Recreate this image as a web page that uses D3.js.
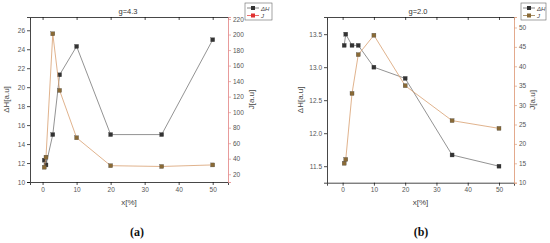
<!DOCTYPE html>
<html>
<head>
<meta charset="utf-8">
<script src="https://cdn.jsdelivr.net/npm/d3@7"></script>
<style>
  body { margin: 0; background: #fff; }
  svg { display: block; font-family: "Liberation Sans", Arial, sans-serif; }
</style>
</head>
<body>
<div id="chart"></div>
<script>
// x positions (%) shared by both panels
const xVals = [0.5, 1, 3, 5, 10, 20, 35, 50]
const xTicks = [0, 10, 20, 30, 40, 50]

// panel (a) g=4.3
const dHa = [12.3, 11.8, 15.0, 21.3, 24.3, 15.0, 15.0, 25.0]
const Ja = [29, 42, 201, 128, 67, 31, 30, 32]
const leftTicksA = [10, 12, 14, 16, 18, 20, 22, 24, 26]
const rightTicksA = [20, 40, 60, 80, 100, 120, 140, 160, 180, 200, 220]

// panel (b) g=2.0
const dHb = [13.33, 13.5, 13.33, 13.33, 13.0, 12.83, 11.67, 11.5]
const Jb = [15, 16, 33, 43, 48, 35, 26, 24]
const leftTicksB = [11.5, 12.0, 12.5, 13.0, 13.5]
const rightTicksB = [10, 15, 20, 25, 30, 35, 40, 45, 50]

const svg = d3.select("#chart").append("svg")
  .attr("width", 550)
  .attr("height", 243)

function drawPanel(o) {
  const g = svg.append("g")
  const x = d3.scaleLinear().domain(o.xDomain).range([o.left, o.right])
  const yL = d3.scaleLinear().domain(o.lDomain).range([o.bottom, o.top])
  const yR = d3.scaleLinear().domain(o.rDomain).range([o.bottom, o.top])

  // bottom axis
  const xAx = g.append("g").attr("transform", `translate(0,${o.bottom})`)
    .call(d3.axisBottom(x).tickValues(xTicks).tickSize(3).tickPadding(2))
  // top axis, ticks only
  g.append("g").attr("transform", `translate(0,${o.top})`)
    .call(d3.axisTop(x).tickValues(xTicks).tickSize(-3).tickFormat(""))
  // left axis
  g.append("g").attr("transform", `translate(${o.left},0)`)
    .call(d3.axisLeft(yL).tickValues(o.lTicks).tickSize(3).tickPadding(2).tickFormat(o.lFormat))
  // right axis
  const rAx = g.append("g").attr("class", "raxis").attr("transform", `translate(${o.right},0)`)
    .call(d3.axisRight(yR).tickValues(o.rTicks).tickSize(3).tickPadding(2))
  rAx.selectAll("path, line").attr("stroke", o.rColor)

  g.selectAll(".domain").attr("stroke-width", 0.9)
  g.selectAll(".tick text").attr("font-size", 6.5).attr("fill", "#555")
  g.selectAll(".tick line").attr("stroke-width", 0.7)
  g.selectAll(".domain").filter(function() { return this.parentNode.getAttribute("class") !== "raxis" }).attr("stroke", "#333")

  // titles
  g.append("text").attr("x", o.titleX).attr("y", o.top - 3)
    .attr("text-anchor", "middle").attr("font-size", 7.5).attr("fill", "#333").text(o.title)
  g.append("text").attr("x", (o.left + o.right) / 2 + o.xtOff).attr("y", 205)
    .attr("text-anchor", "middle").attr("font-size", 8).attr("fill", "#444").text("x[%]")
  g.append("text").attr("transform", `translate(${o.lTitleX},${(o.top + o.bottom) / 2}) rotate(-90)`)
    .attr("text-anchor", "middle").attr("font-size", 8).attr("fill", "#444").text("ΔH[a.u]")
  g.append("text").attr("transform", `translate(${o.rTitleX},${(o.top + o.bottom) / 2}) rotate(-90)`)
    .attr("text-anchor", "middle").attr("font-size", 8).attr("fill", "#444").text("J[a.u]")
  g.append("text").attr("x", o.capX).attr("y", 236)
    .attr("text-anchor", "middle").attr("font-family", "'Liberation Serif', 'Times New Roman', serif")
    .attr("font-weight", "bold").attr("font-size", 12).attr("fill", "#111").text(o.cap)

  // series
  const series = [
    { vals: o.dH, y: yL, line: "#777", fill: "#333" },
    { vals: o.J, y: yR, line: o.jLine, fill: "#8a6a35" }
  ]
  series.forEach(s => {
    const pts = xVals.map((xv, i) => [xv, s.vals[i]])
    g.append("path").datum(pts)
      .attr("fill", "none").attr("stroke", s.line).attr("stroke-width", 0.8)
      .attr("d", d3.line().x(d => x(d[0])).y(d => s.y(d[1])))
    g.selectAll(null).data(pts).enter().append("rect")
      .attr("x", d => x(d[0]) - 2).attr("y", d => s.y(d[1]) - 2)
      .attr("width", 4).attr("height", 4)
      .attr("fill", s.fill).attr("stroke", "#444").attr("stroke-width", 0.3)
  })

  // legend
  const lg = g.append("g").attr("transform", `translate(${o.legX},3)`)
  lg.append("rect").attr("width", o.legW).attr("height", 17)
    .attr("fill", "#fff").attr("stroke", "#666").attr("stroke-width", 0.6)
  const items = [["ΔH", "#333", "#555"], ["J", o.legJ, o.legJ]]
  items.forEach((it, i) => {
    const row = lg.append("g").attr("transform", `translate(0,${5 + i * 7.5})`)
    row.append("line").attr("x1", 2).attr("x2", 14).attr("stroke", it[2]).attr("stroke-width", 0.7)
    row.append("rect").attr("x", 6).attr("y", -2).attr("width", 4).attr("height", 4).attr("fill", it[1])
    row.append("text").attr("x", 16).attr("y", 2.5).attr("font-size", 6)
      .attr("font-style", "italic").attr("fill", "#444").text(it[0])
  })
}

drawPanel({
  left: 30, right: 228, top: 17, bottom: 182,
  xDomain: [-3.7, 54.5], lDomain: [10, 27.4], rDomain: [10, 222.6],
  lTicks: leftTicksA, rTicks: rightTicksA, lFormat: d3.format("d"),
  dH: dHa, J: Ja, rColor: "#e59090", jLine: "#d8a070",
  title: "g=4.3", titleX: 128, xtOff: 0, lTitleX: 9, rTitleX: 254,
  cap: "(a)", capX: 137, legX: 245, legW: 27, legJ: "#e03030"
})

drawPanel({
  left: 327, right: 514, top: 17, bottom: 182.7,
  xDomain: [-5, 54.8], lDomain: [11.25, 13.76], rDomain: [10, 52.7],
  lTicks: leftTicksB, rTicks: rightTicksB, lFormat: d3.format(".1f"),
  dH: dHb, J: Jb, rColor: "#e0a080", jLine: "#d8a070",
  title: "g=2.0", titleX: 418, xtOff: 0, lTitleX: 303, rTitleX: 535,
  cap: "(b)", capX: 421, legX: 521, legW: 25, legJ: "#8a6a35"
})
</script>
</body>
</html>
